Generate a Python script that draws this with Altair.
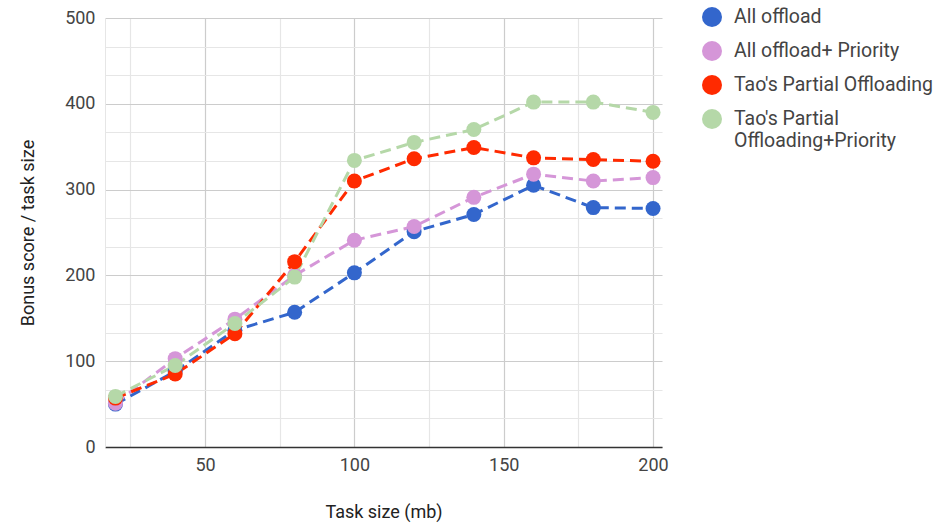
import altair as alt
import pandas as pd

task_sizes = [20, 40, 60, 80, 100, 120, 140, 160, 180, 200]
series_names = ["All offload", "All offload+ Priority", "Tao's Partial Offloading", "Tao's Partial Offloading+Priority"]
all_offload = [50, 88, 136, 157, 203, 251, 271, 305, 279, 278]
all_offload_priority = [51, 103, 149, 200, 241, 257, 291, 318, 310, 314]
partial = [57, 85, 132, 216, 310, 336, 349, 337, 335, 333]
partial_priority = [59, 95, 144, 198, 334, 355, 370, 402, 402, 390]
colors = ["#3366CC", "#D596D8", "#FF2A00", "#B5D8A8"]

x_ticks = [25, 50, 75, 100, 125, 150, 175, 200]
y_ticks = [0, 100 / 3, 200 / 3, 100, 400 / 3, 500 / 3, 200, 700 / 3, 800 / 3, 300,
           1000 / 3, 1100 / 3, 400, 1300 / 3, 1400 / 3, 500]

rows = []
for name, vals in zip(series_names, [all_offload, all_offload_priority, partial, partial_priority]):
    for x, v in zip(task_sizes, vals):
        rows.append({"series": name, "x": x, "y": v, "order": series_names.index(name)})
df = pd.DataFrame(rows)

scale = alt.Scale(domain=series_names, range=colors)
FONT = "Roboto"

x_enc = alt.X("x:Q", scale=alt.Scale(domain=[16.5, 203], nice=False, zero=False),
              axis=alt.Axis(values=x_ticks, title="Task size (mb)",
                            labelExpr="datum.value % 50 === 0 ? datum.label : ''",
                            gridColor={"condition": {"test": "datum.value % 50 === 0", "value": "#cccccc"}, "value": "#e6e6e6"},
                            gridWidth=1.2,
                            domainColor="#333333", domainWidth=1.5, ticks=False,
                            labelFontSize=18, labelColor="#444444", labelFont=FONT, labelPadding=9,
                            titleFontSize=18, titleColor="#222222", titleFont=FONT, titleFontWeight="normal",
                            titleY=65, titleBaseline="middle"))
y_enc = alt.Y("y:Q", scale=alt.Scale(domain=[0, 500], nice=False),
              axis=alt.Axis(values=y_ticks, title="Bonus score / task size",
                            labelExpr="abs(datum.value % 100) < 0.01 ? datum.label : ''",
                            gridColor={"condition": {"test": "abs(datum.value % 100) < 0.01", "value": "#cccccc"}, "value": "#e6e6e6"},
                            gridWidth=1.2,
                            domainColor="#e6e6e6", ticks=False,
                            labelFontSize=18, labelColor="#444444", labelFont=FONT, labelPadding=10,
                            titleFontSize=18, titleColor="#222222", titleFont=FONT, titleFontWeight="normal",
                            titleX=-77, titleY=214.5, titleAngle=-90, titleAlign="center", titleBaseline="middle"))

label_expr = ("datum.value == \"Tao's Partial Offloading+Priority\" ? "
              "[\"Tao's Partial\", \"Offloading+Priority\"] : datum.label")
legend = alt.Legend(labelExpr=label_expr)

lines = alt.Chart(df).mark_line(strokeDash=[11, 6], strokeWidth=3).encode(
    x=x_enc, y=y_enc,
    color=alt.Color("series:N", scale=scale, legend=legend),
    detail="series:N",
)

points = alt.Chart(df).mark_circle(size=225, opacity=1).encode(
    x=x_enc, y=y_enc,
    color=alt.Color("series:N", scale=scale, legend=legend),
    order=alt.Order("order:Q"),
)

chart = alt.layer(lines, points).properties(
    width=937, height=523,
    autosize=alt.AutoSizeParams(type="fit", contains="padding"),
    padding={"left": 19, "top": 9, "right": 274, "bottom": 2},
).configure_view(stroke=None).configure_legend(
    title=None, orient="none", legendX=597, legendY=-11, padding=0,
    symbolType="circle", symbolSize=400, symbolStrokeWidth=0, symbolOpacity=1,
    labelFontSize=19.5, labelColor="#444444", labelFont=FONT,
    labelOffset=12, rowPadding=14, labelLimit=300,
)

chart.save("out.html", embed_options={"renderer": "svg", "actions": False})
